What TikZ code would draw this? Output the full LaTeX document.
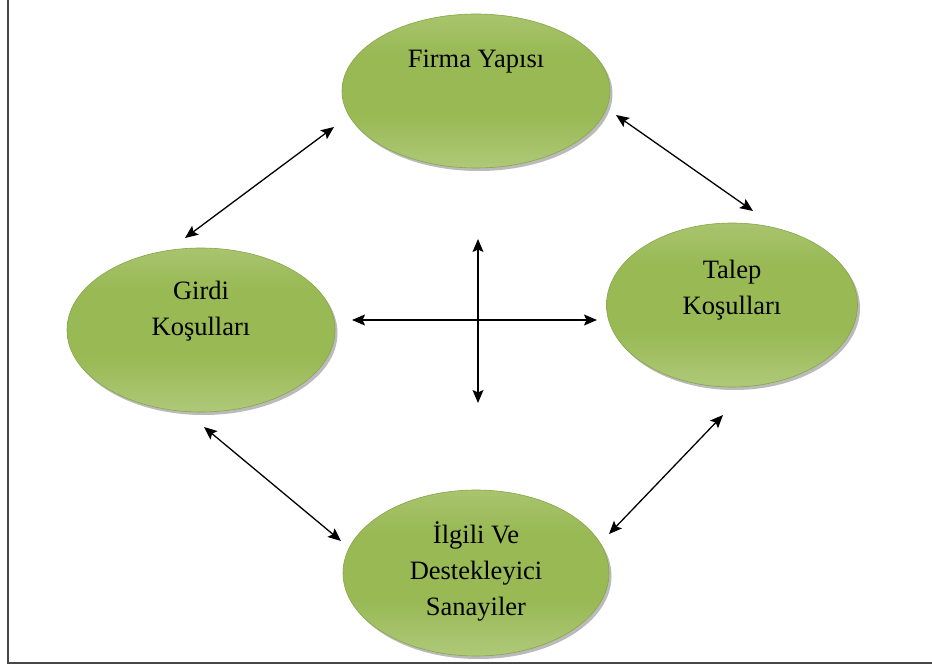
\documentclass[tikz,border=0pt]{standalone}
\usepackage{fontspec}
\setmainfont{Liberation Serif}
\usetikzlibrary{shapes.geometric,arrows.meta,shadows}
\definecolor{gl}{RGB}{200,218,160}
\definecolor{gd}{RGB}{152,185,84}
\definecolor{gedge}{RGB}{135,165,75}
\pgfdeclareverticalshading{greenv}{100bp}{color(0bp)=(gl); color(12bp)=(gl!85!gd); color(42bp)=(gd); color(62bp)=(gd); color(100bp)=(gl)}
\tikzset{
  bubble/.style={ellipse, draw=gedge, line width=0.6pt, shading=greenv, inner sep=0pt,
    drop shadow={shadow xshift=2.5pt, shadow yshift=-3pt, opacity=0.45, fill=black!60}},
  lbl/.style={font=\fontsize{26.5}{36}\selectfont, align=center, text=black},
  conn/.style={{Stealth[length=13pt,width=11pt,inset=2.5pt]}-{Stealth[length=13pt,width=11pt,inset=2.5pt]}, line width=1.3pt, black}
}
\begin{document}
\begin{tikzpicture}[x=1pt,y=-1pt]
\useasboundingbox (0,0) rectangle (932,668);
\fill[white] (0,0) rectangle (932,668);
% frame
\draw[line width=2.6pt, black!72] (8,-2) -- (8,663) -- (934,663);
% ellipses
\node[bubble, minimum width=268pt, minimum height=154pt] (firma) at (476,91) {};
\node[bubble, minimum width=268pt, minimum height=164pt] (girdi) at (201,330) {};
\node[bubble, minimum width=251pt, minimum height=164pt] (talep) at (732,305) {};
\node[bubble, minimum width=266pt, minimum height=166pt] (ilgili) at (476,573) {};
% labels
\node[lbl] (tfirma) at (476,62) {Firma Yapısı};
\node[lbl] (tgirdi) at (201,311) {Girdi\\Koşulları};
\node[lbl] (ttalep) at (732,290) {Talep\\Koşulları};
\node[lbl] (tilgili) at (476,571) {İlgili Ve\\Destekleyici\\Sanayiler};
% connector ends
\coordinate (a1) at (185,238); \coordinate (a2) at (334,127);
\coordinate (b1) at (616,115); \coordinate (b2) at (753,211);
\coordinate (c1) at (204,427); \coordinate (c2) at (341,541);
\coordinate (d1) at (609,534); \coordinate (d2) at (723,415);
\coordinate (h1) at (352,320); \coordinate (h2) at (597,320);
\coordinate (v1) at (478,239); \coordinate (v2) at (478,403);
\draw[conn] (a1) -- (a2);
\draw[conn] (b1) -- (b2);
\draw[conn] (c1) -- (c2);
\draw[conn] (d1) -- (d2);
\draw[conn] (h1) -- (h2);
\draw[conn] (v1) -- (v2);
\end{tikzpicture}
\end{document}
